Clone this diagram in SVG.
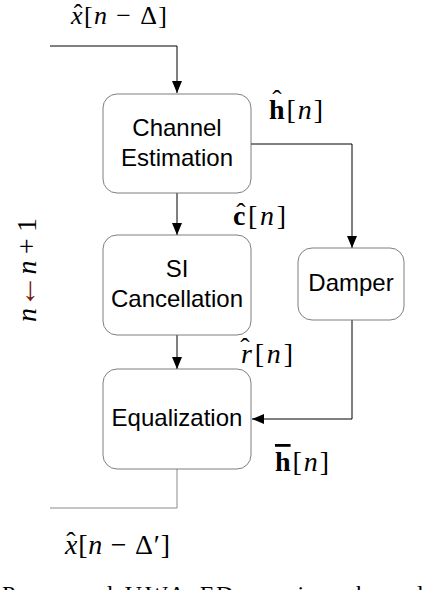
<svg xmlns="http://www.w3.org/2000/svg" width="424" height="590" viewBox="0 0 424 590">
<style>
.box{fill:#fff;stroke:#707070;stroke-width:0.9}
.lbl{font-family:"Liberation Sans",Arial,sans-serif;font-size:24px;fill:#000;text-anchor:middle}
.m{font-family:"Liberation Serif","Times New Roman",serif;font-size:28px;fill:#000}
.hat{font-family:"Liberation Serif","Times New Roman",serif;font-size:28px;fill:#000;text-anchor:middle}
.i{font-style:italic}
.b{font-weight:bold}
.wire{fill:none;stroke:#000;stroke-width:1}
.cap{font-family:"Liberation Serif","Times New Roman",serif;font-size:24px;fill:#000}
</style>
<defs>
<marker id="ah" markerUnits="userSpaceOnUse" markerWidth="12" markerHeight="10" viewBox="0 0 12 10" refX="12" refY="5" orient="auto">
<path d="M0,0 L12,5 L0,10 z" fill="#000"/>
</marker>
</defs>
<rect width="424" height="590" fill="#fff"/>

<g id="connectors">
<polyline class="wire" points="50,46 177,46 177,93" marker-end="url(#ah)"/>
<line class="wire" x1="177" y1="193" x2="177" y2="235" marker-end="url(#ah)"/>
<line class="wire" x1="177" y1="335" x2="177" y2="369" marker-end="url(#ah)"/>
<polyline class="wire" points="251,144 352,144 352,248" marker-end="url(#ah)"/>
<polyline class="wire" points="352,320 352,419 252,419" marker-end="url(#ah)"/>
<polyline class="wire" points="177,469 177,508 50,508" style="stroke:#8a8a8a"/>
</g>

<g id="channel-estimation">
<rect class="box" x="103" y="94" width="148" height="99" rx="14"/>
<text class="lbl" x="177" y="136">Channel</text>
<text class="lbl" x="177" y="166">Estimation</text>
</g>

<g id="si-cancellation">
<rect class="box" x="103" y="235" width="148" height="100" rx="14"/>
<text class="lbl" x="177" y="277">SI</text>
<text class="lbl" x="177" y="307">Cancellation</text>
</g>

<g id="equalization">
<rect class="box" x="103" y="369" width="148" height="100" rx="14"/>
<text class="lbl" x="177" y="426">Equalization</text>
</g>

<g id="damper">
<rect class="box" x="298" y="248" width="106" height="72" rx="14"/>
<text class="lbl" x="351" y="291">Damper</text>
</g>

<g id="labels">
<text class="m" x="71" y="24" style="font-size:26px" textLength="96" lengthAdjust="spacing"><tspan class="i">x</tspan>[<tspan class="i">n</tspan> − Δ]</text>
<text class="hat" x="78" y="22" style="font-size:26px">ˆ</text>

<text class="m" x="269" y="119" textLength="54" lengthAdjust="spacing"><tspan class="b">h</tspan>[<tspan class="i">n</tspan>]</text>
<text class="hat" x="277" y="109">ˆ</text>

<text class="m" x="233" y="225" textLength="53" lengthAdjust="spacing"><tspan class="b">c</tspan>[<tspan class="i">n</tspan>]</text>
<text class="hat" x="241" y="222">ˆ</text>

<text class="m" x="241" y="363" textLength="52" lengthAdjust="spacing"><tspan class="i">r</tspan>[<tspan class="i">n</tspan>]</text>
<text class="hat" x="245" y="357">ˆ</text>

<text class="m" x="275" y="471" textLength="54" lengthAdjust="spacing"><tspan class="b" text-decoration="overline">h</tspan>[<tspan class="i">n</tspan>]</text>

<text class="m" x="65" y="554" textLength="105" lengthAdjust="spacing"><tspan class="i">x</tspan>[<tspan class="i">n</tspan> − Δ′]</text>
<text class="hat" x="71" y="551">ˆ</text>

<text class="m" transform="translate(36,270) rotate(-90)" text-anchor="middle" textLength="104" lengthAdjust="spacing"><tspan class="i">n</tspan><tspan fill="#7a1a10" style="font-size:34px">←</tspan><tspan class="i">n</tspan> + 1</text>

<text class="cap" x="2" y="602" textLength="421" lengthAdjust="spacing">Proposed UWA-FD receiver based</text>
</g>
</svg>
